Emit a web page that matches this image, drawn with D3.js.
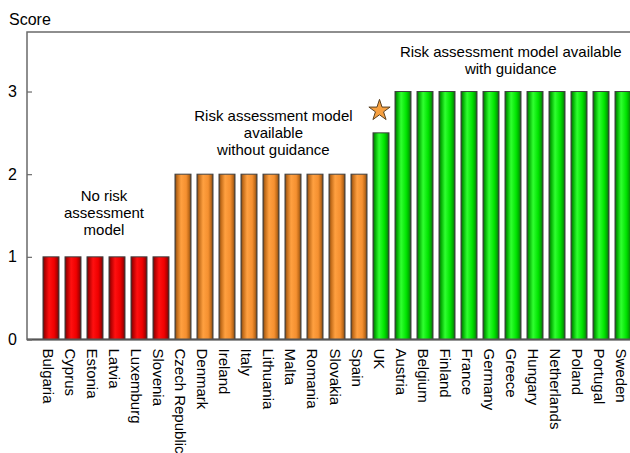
<!DOCTYPE html>
<html>
<head>
<meta charset="utf-8">
<script src="https://cdn.jsdelivr.net/npm/d3@7"></script>
<style>
  html, body { margin: 0; padding: 0; background: #fff; }
  svg { display: block; font-family: "Liberation Sans", Arial, sans-serif; }
</style>
</head>
<body>
<script>
const countries = ["Bulgaria","Cyprus","Estonia","Latvia","Luxemburg","Slovenia",
  "Czech Republic","Denmark","Ireland","Italy","Lithuania","Malta","Romania","Slovakia","Spain",
  "UK","Austria","Belgium","Finland","France","Germany","Greece","Hungary","Netherlands","Poland","Portugal","Sweden"];
const scores = [1,1,1,1,1,1, 2,2,2,2,2,2,2,2,2, 2.5,3,3,3,3,3,3,3,3,3,3,3];
const groups = ["red","red","red","red","red","red",
  "orange","orange","orange","orange","orange","orange","orange","orange","orange",
  "green","green","green","green","green","green","green","green","green","green","green","green"];
const yTicks = [0,1,2,3];
const yTitle = "Score";
const starCountry = "UK";
const starValue = 2.77;
const annotations = [
  {lines: ["No risk","assessment","model"], country: "Estonia", value: 1.67, shift: 0.41},
  {lines: ["Risk assessment model","available","without guidance"], country: "Lithuania", value: 2.645, shift: 0.11},
  {lines: ["Risk assessment model available","with guidance"], country: "Greece", value: 3.42, shift: -0.1}
];

const W = 630, H = 453;
const svg = d3.select("body").append("svg").attr("width", W).attr("height", H);

const x = d3.scaleBand().domain(countries).range([27, 647]).paddingInner(0.273).paddingOuter(0.727);
const y = d3.scaleLinear().domain([0, 3.72]).range([339.5, 32]);

const defs = svg.append("defs");
function grad(id, edge, dark, bright, mid) {
  const g = defs.append("linearGradient").attr("id", id).attr("x1","0").attr("x2","1").attr("y1","0").attr("y2","0");
  [[0, edge],[0.12, dark],[0.38, bright],[0.7, mid],[0.88, dark],[1, edge]].forEach(([o,c]) =>
    g.append("stop").attr("offset", o).attr("stop-color", c));
}
grad("g-red", "#5a1010", "#b00000", "#ff1010", "#f00000");
grad("g-orange", "#6a4520", "#c06a18", "#ffa040", "#f59030");
grad("g-green", "#1f4f1f", "#00a800", "#30ff30", "#00e400");

// frame
svg.append("rect").attr("x", 27).attr("y", 32).attr("width", 620).attr("height", 307.5)
  .attr("fill", "none").attr("stroke", "#6a6a6a").attr("stroke-width", 1.5);

// bars
svg.selectAll("rect.bar").data(countries).enter().append("rect")
  .attr("class", "bar")
  .attr("x", d => x(d))
  .attr("width", x.bandwidth())
  .attr("y", (d,i) => y(scores[i]))
  .attr("height", (d,i) => y(0) - y(scores[i]))
  .attr("fill", (d,i) => `url(#g-${groups[i]})`)
  .attr("stroke", "#404040").attr("stroke-width", 1);

// bottom axis line
svg.append("line").attr("x1", 27).attr("x2", 647).attr("y1", y(0)).attr("y2", y(0))
  .attr("stroke", "#555").attr("stroke-width", 2);

// y axis
const yAxis = d3.axisLeft(y).tickValues(yTicks).tickFormat(d3.format("d")).tickSize(-5).tickPadding(10);
const ya = svg.append("g").attr("transform", "translate(27,0)").call(yAxis);
ya.select(".domain").remove();
ya.selectAll(".tick line").attr("stroke", "#6a6a6a").attr("stroke-width", 1.2);
ya.selectAll(".tick text").attr("font-size", 16).attr("fill", "#000")
  .attr("font-family", "Liberation Sans, Arial, sans-serif").attr("x", -10);

// y title
svg.append("text").attr("x", 9).attr("y", 25).attr("font-size", 16).text(yTitle);

// x labels
const xa = svg.append("g");
xa.selectAll("text").data(countries).enter().append("text")
  .attr("transform", d => `translate(${x(d) + x.bandwidth()/2 - 7.5},348.5) rotate(90)`)
  .attr("font-size", 15).attr("text-anchor", "start")
  .text(d => d);

// star
const starSym = d3.symbol().type(d3.symbolStar).size(140);
svg.append("path").attr("d", starSym())
  .attr("transform", `translate(${x(starCountry) + x.bandwidth()/2 - 1.5},${y(starValue)})`)
  .attr("fill", "#f7a040").attr("stroke", "#5a4020").attr("stroke-width", 1);

// annotations
annotations.forEach(a => {
  const cx = x(a.country) + x.bandwidth()/2 + a.shift * x.step();
  const t = svg.append("text").attr("font-size", 15).attr("text-anchor", "middle");
  a.lines.forEach((l, i) => {
    t.append("tspan").attr("x", cx).attr("y", y(a.value) + i * 17).text(l);
  });
});
</script>
</body>
</html>
